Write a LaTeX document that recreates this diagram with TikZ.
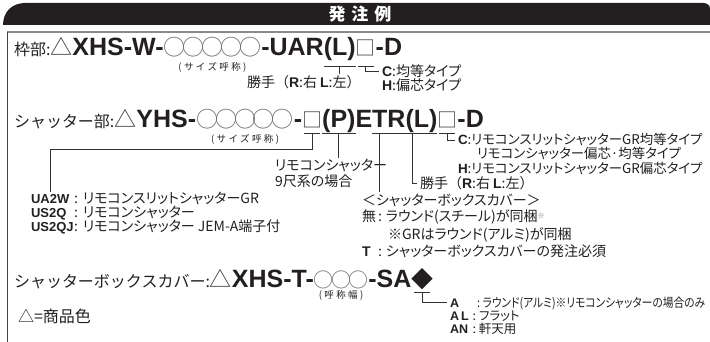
\documentclass[tikz,border=0pt]{standalone}
\usepackage{fontspec}
\usepackage{graphicx}
\usetikzlibrary{calc}
\setmainfont{Liberation Sans}
\newfontfamily\jp{Noto Sans CJK JP}
\newfontfamily\jpp{Noto Sans CJK JP}[RawFeature=+palt]
\newfontfamily\jpsp{Noto Sans CJK JP}[LetterSpace=25]
\newfontfamily\jpc{Noto Sans CJK JP}[LetterSpace=-14]
\newcommand\fsz[1]{\fontsize{#1}{#1}\selectfont}
\newcommand\LB[1]{{\rmfamily\bfseries #1}}
\definecolor{hdr}{HTML}{231F20}
\definecolor{txt}{HTML}{231F20}
\definecolor{ln}{HTML}{333333}
\definecolor{symc}{HTML}{3A3A3A}
\definecolor{circc}{HTML}{707070}
\definecolor{frtop}{HTML}{8A8A8A}
\definecolor{frleft}{HTML}{444444}
\begin{document}
\begin{tikzpicture}[x=1pt,y=-1pt,
 seg/.style={inner sep=0pt,outer sep=0pt,anchor=base west},
 code/.style={seg,font=\fsz{25}\rmfamily\bfseries,text=txt},
 lbl/.style={seg,font=\fsz{16}\jp,text=txt},
 sym/.style={seg,font=\fsz{20}\jp,text=symc},
 circ/.style={seg,font=\fsz{22}\jpc,text=circc},
 ann/.style={seg,font=\fsz{14}\jpp,text=txt},
 anns/.style={seg,font=\fsz{12.5}\jpp,text=txt},
 annw/.style={seg,font=\fsz{14}\jp,text=txt},
 cod/.style={seg,font=\fsz{13}\rmfamily\bfseries,text=txt},
 codb/.style={seg,font=\fsz{14}\rmfamily\bfseries,text=txt},
 cods/.style={seg,font=\fsz{12.5}\rmfamily\bfseries,text=txt},
 note/.style={inner sep=0pt,font=\fsz{9.5}\jpsp,text=txt},
 brk/.style={draw=ln,line width=0.8pt}]
\useasboundingbox (0,0) rectangle (710,342);
% header
\fill[hdr] (3,25) .. controls (3,12) and (12,3) .. (25,3) -- (703,3) .. controls (707,3) and (710,5) .. (710,9) -- (710,25) -- cycle;
\node[font=\fsz{17}\jp\bfseries,text=white] (title) at (360,14.5) {発\hspace{6pt}注\hspace{6pt}例};
\draw[frtop,line width=1.6pt] (7,32) -- (710,32);
\draw[frleft,line width=1pt] (7,32) -- (7,342);

% ---------- line 1
\node[lbl] (l1a) at (14,56) {枠部:};
\node[sym,font=\fsz{22}\jp] (l1b) at (l1a.base east) {△};
\node[code] (l1c) at (l1b.base east) {XHS-W-};
\node[circ] (l1d) at (l1c.base east) {○○○○○};
\node[code] (l1e) at (l1d.base east) {-UAR};
\node[code] (l1f) at (l1e.base east) {(L)};
\node[sym] (l1g) at (l1f.base east) {□};
\node[code] (l1h) at (l1g.base east) {-D};
\coordinate (r67) at (0,67.5);
\node[note] (l1s) at (l1d.center |- r67) {(サイズ呼称)};
\coordinate (u1) at (0,66);
\node[annw] (l1k) at (247,87.5) {勝手（\LB{R}:右\ \LB{L}:左）};
\node[ann] (l1c1) at (382,77) {\LB{C}:均等タイプ};
\node[ann] (l1h1) at (382,91) {\LB{H}:偏芯タイプ};
\draw[brk] (l1f.west |- u1) -- (l1f.east |- u1);
\draw[brk,shorten >=2pt] (l1f.center |- u1) -- (l1f.center |- l1k.north);
\draw[brk] ($(l1g.west |- u1)+(2,0)$) -- ($(l1g.east |- u1)+(-2,0)$);
\draw[brk,shorten >=3pt] (l1g.center |- u1) |- (l1c1.west);

% ---------- line 2
\node[lbl] (l2a) at (14,128) {シャッター部:};
\node[sym,font=\fsz{22}\jp] (l2b) at (l2a.base east) {△};
\node[code] (l2c) at (l2b.base east) {YHS-};
\node[circ] (l2d) at (l2c.base east) {○○○○○};
\node[code] (l2e) at (l2d.base east) {-};
\node[sym] (l2f) at (l2e.base east) {□};
\node[code] (l2g) at (l2f.base east) {(P)};
\node[code] (l2h) at (l2g.base east) {E};
\node[code] (l2i) at (l2h.base east) {T};
\node[code] (l2j) at (l2i.base east) {R(L)};
\node[sym] (l2k) at (l2j.base east) {□};
\node[code] (l2l) at (l2k.base east) {-D};
\coordinate (r139) at (0,139.5);
\node[note] (l2s) at (l2d.center |- r139) {(サイズ呼称)};
\coordinate (u2) at (0,133);
\coordinate (u2b) at (0,149);
% labels line 2
\node[cod] (ua) at (31,204) {UA2W};
\node[ann] (uat) at (74,204) {:\hspace{5pt}リモコンスリットシャッターGR};
\node[cod] (us) at (31,218) {US2Q};
\node[ann] (ust) at (74,218) {:\hspace{5pt}リモコンシャッター};
\node[cod] (usj) at (31,232) {US2QJ};
\node[ann] (usjt) at (74,232) {:\hspace{5pt}リモコンシャッター JEM-A端子付};
\node[ann] (pl1) at (275,171) {リモコンシャッター};
\node[ann] (pl2) at (275,187) {9尺系の場合};
\node[ann] (sb) at (362,205) {＜シャッターボックスカバー＞};
\node[ann] (mu) at (362,222) {無};
\node[ann] (mut) at (378,222) {:\hspace{4pt}ラウンド(スチール)が同梱\textcolor{gray}{\raisebox{3pt}{\fsz{7}※}}};
\node[ann] (gr) at (388,239) {※GRはラウンド(アルミ)が同梱};
\node[codb] (tt) at (362,256) {T};
\node[ann] (ttt) at (378,256) {:\hspace{4pt}シャッターボックスカバーの発注必須};
\node[annw] (l2k1) at (420,189) {勝手（\LB{R}:右\ \LB{L}:左）};
\node[ann,font=\fsz{13.4}\jpp] (l2c1) at (458,145) {\LB{C}:リモコンスリットシャッターGR均等タイプ};
\node[ann,font=\fsz{13.4}\jpp] (l2c2) at (477,159) {リモコンシャッター偏芯·均等タイプ};
\node[ann,font=\fsz{13.4}\jpp] (l2h1) at (458,174) {\LB{H}:リモコンスリットシャッターGR偏芯タイプ};
% brackets line 2
\draw[brk] ($(l2f.west |- u2)+(2,0)$) -- ($(l2f.east |- u2)+(-2,0)$);
\draw[brk,shorten >=3pt] (l2f.center |- u2) -- (l2f.center |- u2b) -| (ua.north);
\draw[brk] (l2g.west |- u2) -- (l2g.east |- u2);
\draw[brk,shorten >=2pt] (l2g.center |- u2) -- (l2g.center |- pl1.north);
\draw[brk] (l2i.west |- u2) -- (l2i.east |- u2);
\draw[brk,shorten >=2pt] (l2i.center |- u2) -- (l2i.center |- sb.north);
\draw[brk] (l2j.west |- u2) -- (l2j.east |- u2);
\draw[brk,shorten >=3pt] (l2j.center |- u2) |- (l2k1.west);
\draw[brk] ($(l2k.west |- u2)+(2,0)$) -- ($(l2k.east |- u2)+(-2,0)$);
\draw[brk,shorten >=3pt] (l2k.center |- u2) |- (l2c1.west);

% ---------- line 3
\node[lbl] (l3a) at (14,287) {シャッターボックスカバー:};
\node[sym,font=\fsz{22}\jp] (l3b) at (l3a.base east) {△};
\node[code] (l3c) at (l3b.base east) {XHS-T-};
\node[circ,font=\fsz{20}\jpc] (l3d) at (l3c.base east) {○○○};
\node[code] (l3e) at (l3d.base east) {-SA};
\node[sym,font=\fsz{22}\jp,text=txt] (l3f) at (l3e.base east) {◆};
\coordinate (r295) at (0,295.5);
\node[note] (l3s) at (l3d.center |- r295) {(呼称幅)};
\coordinate (u3) at (0,292);
\node[cods] (aa) at (450,307) {A};
\node[anns] (aat) at (477,307) {\scalebox{0.86}[1]{:\hspace{3pt}ラウンド(アルミ)※リモコンシャッターの場合のみ}};
\node[cods] (al) at (450,320) {A\,L};
\node[anns] (alt) at (472.5,320) {:\hspace{3pt}フラット};
\node[cods] (an) at (450,333) {AN};
\node[anns] (ant) at (472.5,333) {:\hspace{3pt}軒天用};
\draw[brk] ($(l3f.west |- u3)+(3,0)$) -- ($(l3f.east |- u3)+(-3,0)$);
\draw[brk,shorten >=3pt] (l3f.center |- u3) |- (aa.west);

\node[seg,font=\fsz{16}\jp,text=txt] (color) at (18,322) {△=商品色};
\end{tikzpicture}
\end{document}
